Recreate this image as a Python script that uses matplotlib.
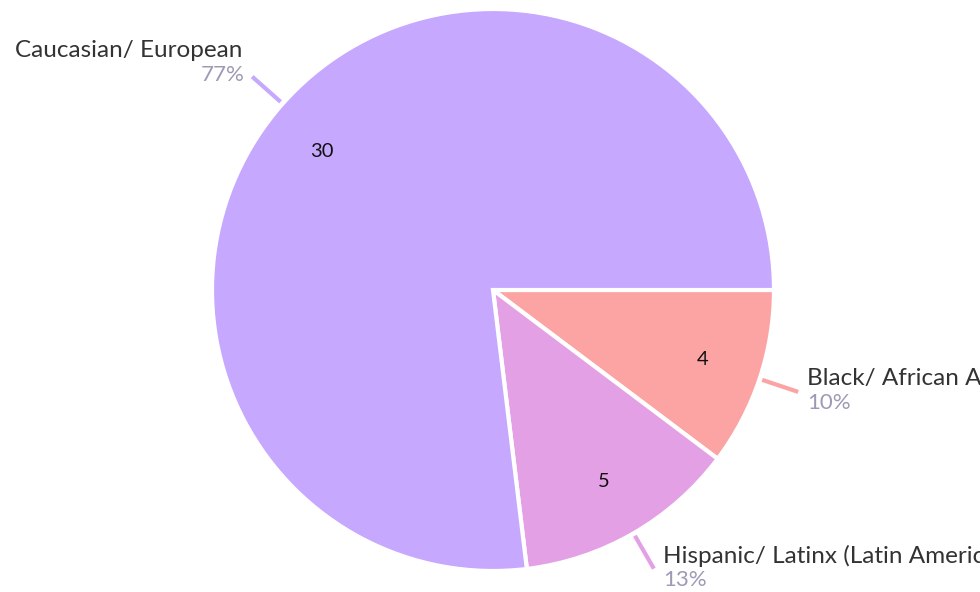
import numpy as np
import matplotlib
matplotlib.use("Agg")
import matplotlib.pyplot as plt

categories = ["Black/ African American", "Hispanic/ Latinx (Latin American)", "Caucasian/ European"]
values = [4, 5, 30]
colors = ["#fca4a4", "#e4a0e4", "#c6a8fe"]

plt.rcParams['font.family'] = ['Lato', 'DejaVu Sans']

W, H = 980, 592
fig = plt.figure(figsize=(W / 100, H / 100), dpi=100)
ax = fig.add_axes([0, 0, 1, 1])
cx, cy, R = 493, H - 290, 281

wedges, texts = ax.pie(values, colors=colors, startangle=0, counterclock=False,
                       center=(cx, cy), radius=R,
                       wedgeprops=dict(edgecolor="white", linewidth=3))
total = sum(values)
for w, v in zip(wedges, values):
    mid = np.deg2rad((w.theta1 + w.theta2) / 2 + (2.5 if v == max(values) else 0))
    d = 0.785 * R
    ax.text(cx + d * np.cos(mid), cy + d * np.sin(mid), str(v), ha="center", va="center",
            fontsize=14.5, color="#111111")

for w, v, cat, col in zip(wedges, values, categories, colors):
    mid = np.deg2rad((w.theta1 + w.theta2) / 2)
    x0, y0 = cx + 1.01 * R * np.cos(mid), cy + 1.01 * R * np.sin(mid)
    x1, y1 = cx + 1.145 * R * np.cos(mid), cy + 1.145 * R * np.sin(mid)
    ax.plot([x0, x1], [y0, y1], color=col, lw=3, solid_capstyle="butt")
    pct = f"{round(100 * v / total)}%"
    if np.cos(mid) >= 0:
        tx = x1 + 9
        ax.text(tx, y1 + 13, cat, ha="left", va="center", fontsize=17.5, color="#333333")
        ax.text(tx, y1 - 11, pct, ha="left", va="center", fontsize=16, color="#9b9bb5")
    else:
        tx = x1 - 8
        ax.text(tx - 2, y1 + 26, cat, ha="right", va="center", fontsize=17.5, color="#333333")
        ax.text(tx, y1 + 2, pct, ha="right", va="center", fontsize=16, color="#9b9bb5")

ax.set_xlim(0, W)
ax.set_ylim(0, H)
ax.set_aspect("equal")
ax.axis("off")
fig.savefig("out.png", dpi=100)
